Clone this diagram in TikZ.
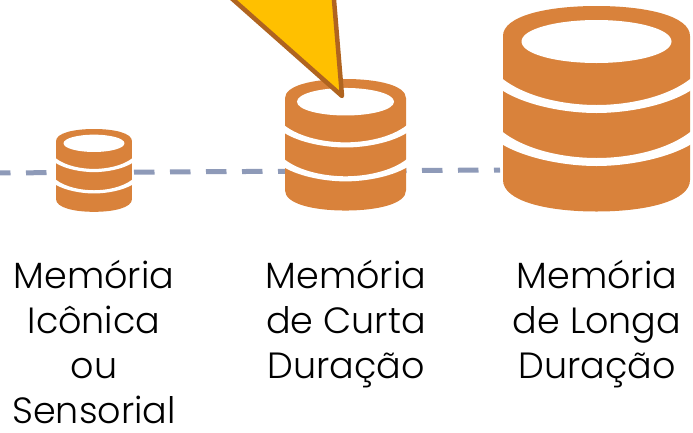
\documentclass[tikz,border=0pt]{standalone}
\usepackage{fontspec}
\setmainfont[UprightFont=* Light]{Poppins}
\definecolor{dborange}{HTML}{D9823B}
\definecolor{dashblue}{HTML}{8E9AB8}
\definecolor{callfill}{HTML}{FFC000}
\definecolor{callline}{HTML}{B0641F}
\tikzset{
  x=1pt,y=-1pt,
  dbody/.style={fill=dborange,draw=none},
  dgap/.style={fill=white,draw=none},
  lbl/.style={font=\fontsize{36.5}{45}\selectfont,text=black,align=center,anchor=center,inner sep=0pt},
}
\newcommand{\dbicon}[4]{%
  \begin{scope}[shift={(#1,#2)},xscale=#3,yscale=#4]
    \fill[dbody] (-93.5,30) .. controls (-93.5,10) and (-50,0) .. (0,0)
      .. controls (50,0) and (93.5,10) .. (93.5,30)
      -- (93.5,174) .. controls (93.5,195) and (50,205.5) .. (0,205.5)
      .. controls (-50,205.5) and (-93.5,195) .. (-93.5,174) -- cycle;
    \fill[dgap] (-75,35.5) .. controls (-75,23) and (-40,14) .. (0,14)
      .. controls (40,14) and (75,23) .. (75,35.5)
      .. controls (75,48) and (40,57) .. (0,57)
      .. controls (-40,57) and (-75,48) .. (-75,35.5) -- cycle;
    \fill[dgap] (-95,72) .. controls (-70,92) and (-30,99) .. (0,99)
      .. controls (30,99) and (70,92) .. (95,72) -- (95,84)
      .. controls (70,100) and (30,107) .. (0,107)
      .. controls (-30,107) and (-70,100) .. (-95,84) -- cycle;
    \fill[dgap] (-95,125) .. controls (-70,145) and (-30,152) .. (0,152)
      .. controls (30,152) and (70,145) .. (95,125) -- (95,138)
      .. controls (70,153) and (30,160) .. (0,160)
      .. controls (-30,160) and (-70,153) .. (-95,138) -- cycle;
  \end{scope}}
\begin{document}
\begin{tikzpicture}
  \useasboundingbox (0,0) rectangle (693,432);
  \clip (0,0) rectangle (693,432);
  \draw[dashblue,line width=5pt,dash pattern=on 20.5pt off 15.5pt] (-10,173) -- (500,170);
  \dbicon{94}{129}{0.406}{0.403}
  \dbicon{345.5}{79}{0.647}{0.64}
  \dbicon{596.5}{6}{1}{1}
  \draw[callline,fill=callfill,line width=4.5pt,line join=round] (220,-12) -- (342,96) -- (333,-12) -- cycle;
  \node[lbl] (iconica) at (94,342) {Memória\\Icônica\\ou\\Sensorial};
  \node[lbl] (curta) at (346,324) {Memória\\de Curta\\Duração};
  \node[lbl] (longa) at (597,324) {Memória\\de Longa\\Duração};
\end{tikzpicture}
\end{document}
